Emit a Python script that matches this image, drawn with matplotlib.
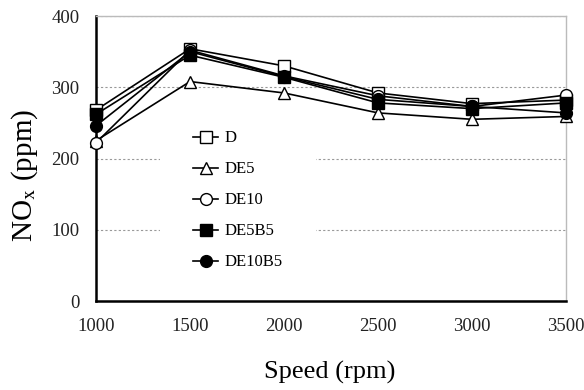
import matplotlib
matplotlib.use("Agg")
import matplotlib.pyplot as plt

speed = [1000, 1500, 2000, 2500, 3000, 3500]
nox_d = [268, 354, 330, 292, 277, 282]
nox_de5 = [225, 308, 292, 264, 255, 259]
nox_de10 = [222, 352, 316, 288, 273, 289]
nox_de5b5 = [262, 345, 314, 278, 270, 278]
nox_de10b5 = [246, 350, 315, 283, 273, 264]

series = [
    ("D", nox_d, "s", "white"),
    ("DE5", nox_de5, "^", "white"),
    ("DE10", nox_de10, "o", "white"),
    ("DE5B5", nox_de5b5, "s", "black"),
    ("DE10B5", nox_de10b5, "o", "black"),
]

plt.rcParams["font.family"] = ["Liberation Serif", "DejaVu Serif"]
plt.rcParams["mathtext.fontset"] = "stix"

fig = plt.figure(figsize=(5.84, 3.9), dpi=100)
ax = fig.add_axes([96 / 584, 1 - 301 / 390, 470 / 584, 285 / 390])

for name, vals, mk, fc in series:
    ax.plot(speed, vals, color="black", lw=1.2, marker=mk, markersize=8.5,
            markerfacecolor=fc, markeredgecolor="black", markeredgewidth=1.0,
            label=name, clip_on=False, zorder=3)

ax.set_xlim(1000, 3500)
ax.set_ylim(0, 400)
ax.set_xticks(speed)
ax.set_yticks([0, 100, 200, 300, 400])
ax.yaxis.grid(True, linestyle=(0, (2, 2)), color="#999999", lw=0.8)
ax.set_axisbelow(True)
ax.tick_params(length=0, labelsize=13.5, labelcolor="#222222")
ax.tick_params(axis="x", pad=12)
ax.tick_params(axis="y", pad=12)

for s in ("left", "bottom"):
    ax.spines[s].set_color("black")
    ax.spines[s].set_linewidth(1.8)
for s in ("top", "right"):
    ax.spines[s].set_color("#bbbbbb")
    ax.spines[s].set_linewidth(1.0)

leg = ax.legend(loc="center left", bbox_to_anchor=(0.136, 0.353),
                borderaxespad=0, frameon=True, fontsize=12,
                handlelength=1.5, handletextpad=0.35,
                labelspacing=0.9, borderpad=2.0, markerscale=1.0)
leg.get_frame().set_edgecolor("none")
leg.get_frame().set_facecolor("white")
leg.get_frame().set_alpha(1.0)
leg.get_frame().set_boxstyle("square", pad=0)
leg.set_zorder(2)

fig.text(25 / 584, 1 - 175 / 390, "NO$_{\\mathrm{x}}$ (ppm)", rotation=90,
         ha="center", va="center", fontsize=21)
fig.text(330 / 584, 1 - 372 / 390, "Speed (rpm)", ha="center", va="center",
         fontsize=19)

fig.savefig("out.png", dpi=100)
